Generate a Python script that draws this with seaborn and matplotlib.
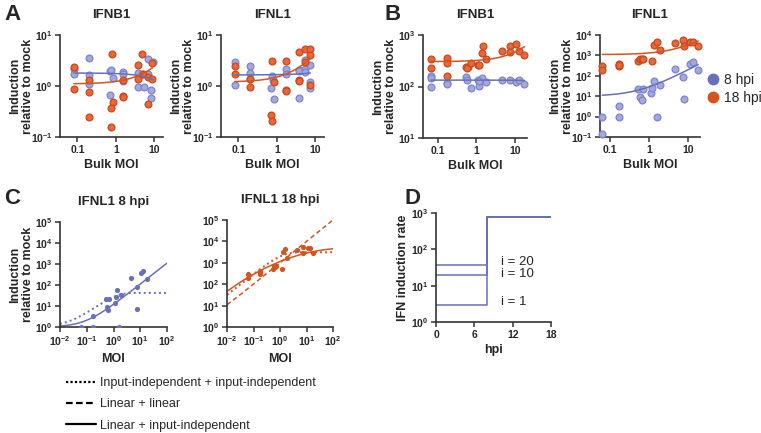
import numpy as np
import pandas as pd
import matplotlib
matplotlib.use("Agg")
import matplotlib.pyplot as plt
import seaborn as sns
from matplotlib.lines import Line2D
from matplotlib.ticker import NullLocator

###############################################################################
# Data
###############################################################################

# A - IFNB1
a_ifnb1_8_moi = [0.08, 0.08, 0.2, 0.2, 0.2, 0.7, 0.75, 0.7, 0.85, 1.5, 1.5, 1.5,
                 3.8, 3.8, 4.8, 5.3, 7, 7, 8.5, 8.5, 9.5]
a_ifnb1_8_val = [2.2, 1.7, 3.6, 1.67, 1.1, 2.0, 2.05, 0.68, 1.44, 1.9, 1.7, 1.25,
                 0.95, 1.8, 1.7, 0.95, 3.4, 1.7, 0.58, 0.82, 3.0]
a_ifnb1_18_moi = [0.08, 0.08, 0.2, 0.2, 0.2, 0.8, 0.85, 0.75, 0.75, 1.5, 1.5, 1.5,
                  3.8, 3.8, 4.8, 5, 7, 7, 9, 9]
a_ifnb1_18_val = [2.4, 0.86, 1.3, 0.76, 0.25, 4.3, 0.48, 0.37, 0.16, 1.3, 0.65, 0.6,
                  2.6, 1.4, 4.3, 1.75, 1.5, 0.45, 2.8, 1.4]

# A - IFNL1
a_ifnl1_8_moi = [0.08, 0.08, 0.2, 0.2, 0.2, 0.75, 0.7, 0.85, 0.8, 1.7, 1.7,
                 3.8, 3.8, 3.8, 5.3, 5.3, 5.3, 7.5, 7.5, 7.5]
a_ifnl1_8_val = [3.0, 1.05, 2.5, 1.8, 1.4, 1.6, 0.93, 0.55, 1.3, 2.2, 1.7,
                 2.1, 2.0, 0.57, 3.3, 2.2, 1.9, 2.6, 1.2, 0.93]
a_ifnl1_18_moi = [0.08, 0.08, 0.2, 0.2, 0.75, 0.85, 0.7, 0.75, 1.7, 1.7, 1.7,
                  3.8, 3.8, 3.8, 5.3, 5.3, 7.5, 7.5, 7.5]
a_ifnl1_18_val = [2.5, 1.7, 1.35, 0.97, 3.1, 1.2, 0.27, 0.21, 3.1, 0.83, 0.8,
                  4.6, 1.3, 1.25, 5.2, 3.0, 5.3, 4.0, 1.05]

# B - IFNB1
b_ifnb1_8_moi = [0.065, 0.065, 0.065, 0.17, 0.17, 0.54, 0.58, 0.7, 1.1, 1.2, 1.4, 1.2,
                 1.8, 4.6, 7.5, 10.8, 12.6, 18]
b_ifnb1_8_val = [162, 146, 100, 116, 112, 155, 134, 94, 134, 104, 146, 126,
                 121, 134, 134, 124, 134, 112]
b_ifnb1_18_moi = [0.065, 0.065, 0.17, 0.17, 0.17, 0.54, 0.61, 0.58, 0.7, 1.1, 1.2, 1.4,
                  1.5, 1.8, 4.6, 7.5, 7.7, 10.8, 12.6, 18]
b_ifnb1_18_val = [340, 228, 365, 280, 162, 240, 240, 228, 280, 264, 264, 455,
                  605, 340, 500, 605, 470, 655, 490, 400]

# B - IFNL1 (also used in C)
b_ifnl1_8_moi = [0.063, 0.063, 0.17, 0.17, 0.53, 0.58, 0.65, 0.7, 1.1, 1.2, 1.3, 1.54,
                 1.9, 4.5, 7.4, 7.6, 11, 13, 18]
b_ifnl1_8_val = [1.0, 0.14, 1.0, 3.2, 22, 8.7, 6.3, 22, 14, 26, 57, 1.0,
                 34, 220, 83, 7, 360, 470, 190]
b_ifnl1_18_moi = [0.063, 0.063, 0.17, 0.17, 0.17, 0.53, 0.58, 0.65, 0.7, 1.15, 1.3, 1.54,
                  1.9, 4.5, 7.4, 7.6, 11, 13, 18]
b_ifnl1_18_val = [300, 190, 400, 300, 350, 525, 690, 660, 690, 525, 3100, 4500,
                  1750, 3900, 5600, 2900, 4800, 4800, 2900]

# fitted "baseline + slope * MOI" curves (baseline, slope)
fit_a_ifnb1 = {"8 hpi": (1.8, -0.05), "18 hpi": (1.1, 0.13)}
fit_a_ifnl1 = {"8 hpi": (1.65, 0.02), "18 hpi": (1.2, 0.3)}
fit_b_ifnb1 = {"8 hpi": (133, -0.1), "18 hpi": (305, 16)}
fit_b_ifnl1 = {"8 hpi": (10, 19), "18 hpi": (1100, 220)}

# C - model curves
c8_linear_slope = 11          # linear + input-independent
c8_saturation = 41            # input-independent + input-independent
c18_linear_slope = 1000       # linear + linear
c18_saturation = 3100         # input-independent + input-independent
c18_mixed_logmoi = [-2, -1, 0, 1, 2]        # linear + input-independent, read at decades
c18_mixed_logval = [1.67, 2.45, 3.08, 3.44, 3.66]

# D - IFN induction rate
d_inputs = [20, 10, 1]
d_early_rate = [37, 20, 3]
d_late_rate = 800
d_switch_hpi = 8
d_end_hpi = 18

###############################################################################
# Style
###############################################################################

sns.set_theme(style="ticks")
plt.rcParams['font.family'] = ['Liberation Sans', 'DejaVu Sans']
plt.rcParams['mathtext.default'] = 'regular'

BLUE_FACE = "#a3a9de"
BLUE_EDGE = "#7c85c9"
BLUE_LINE = "#6670bb"
ORANGE_FACE = "#e8683a"
ORANGE_EDGE = "#c9481c"
ORANGE_LINE = "#d4541f"
AX_COLOR = "#333333"
TICK_FS = 7.5
LABEL_FS = 9

W, H = 761, 433
fig = plt.figure(figsize=(W / 100, H / 100), dpi=100)


def add_ax(l, t, r, b):
    ax = fig.add_axes([l / W, 1 - b / H, (r - l) / W, (b - t) / H])
    ax._px_width = r - l
    return ax


def pow_labels(exps):
    return ['$10^{%d}$' % e for e in exps]


def frame(ax, ylabel, xlabel, yoff=26):
    ax.tick_params(width=1.1, length=3.5, pad=2, color=AX_COLOR)
    for s in ['left', 'bottom']:
        ax.spines[s].set_linewidth(1.2)
        ax.spines[s].set_color(AX_COLOR)
    sns.despine(ax=ax)
    ax.set_xlabel(xlabel, fontsize=LABEL_FS, fontweight='bold', labelpad=3)
    ax.set_ylabel(ylabel, fontsize=LABEL_FS, fontweight='bold', linespacing=1.05)
    ax.yaxis.set_label_coords(-yoff / ax._px_width, 0.5)


def style_axes(ax, xlim, ylim, xticks, xlabels, yexps, xlabel, ylabel, title):
    ax.set_xscale('log')
    ax.set_yscale('log')
    ax.set_xlim(*xlim)
    ax.set_ylim(*ylim)
    ax.set_xticks(xticks, xlabels, fontsize=TICK_FS, fontweight='bold')
    ax.set_yticks([10.0 ** e for e in yexps], pow_labels(yexps), fontsize=TICK_FS,
                  fontweight='bold')
    ax.xaxis.set_minor_locator(NullLocator())
    ax.yaxis.set_minor_locator(NullLocator())
    frame(ax, ylabel, xlabel)
    if title:
        ax.set_title(title, fontsize=9.5, fontweight='bold', pad=12)


def scatter_fit(ax, moi8, val8, moi18, val18, fits):
    for moi, val, face, edge, line, key in [
        (moi8, val8, BLUE_FACE, BLUE_EDGE, BLUE_LINE, "8 hpi"),
        (moi18, val18, ORANGE_FACE, ORANGE_EDGE, ORANGE_LINE, "18 hpi"),
    ]:
        df = pd.DataFrame({"moi": moi, "val": val})
        sns.scatterplot(data=df, x="moi", y="val", ax=ax, s=24, color=face,
                        edgecolor=edge, linewidth=0.9, zorder=3, clip_on=False)
        base, slope = fits[key]
        xs = np.geomspace(min(moi), max(moi), 100)
        sns.lineplot(x=xs, y=base + slope * xs, ax=ax, color=line, lw=1.1, zorder=4)


ylab = "Induction\nrelative to mock"

# ---------------- A ----------------
ax = add_ax(60, 35, 163, 137)
scatter_fit(ax, a_ifnb1_8_moi, a_ifnb1_8_val, a_ifnb1_18_moi, a_ifnb1_18_val, fit_a_ifnb1)
style_axes(ax, (0.035, 17), (0.1, 10), [0.1, 1, 10], ['0.1', '1', '10'],
           [-1, 0, 1], "Bulk MOI", ylab, "IFNB1")

ax = add_ax(221, 35, 324, 137)
scatter_fit(ax, a_ifnl1_8_moi, a_ifnl1_8_val, a_ifnl1_18_moi, a_ifnl1_18_val, fit_a_ifnl1)
style_axes(ax, (0.035, 17), (0.1, 10), [0.1, 1, 10], ['0.1', '1', '10'],
           [-1, 0, 1], "Bulk MOI", ylab, "IFNL1")

# ---------------- B ----------------
ax = add_ax(423, 35, 527, 138)
scatter_fit(ax, b_ifnb1_8_moi, b_ifnb1_8_val, b_ifnb1_18_moi, b_ifnb1_18_val, fit_b_ifnb1)
style_axes(ax, (0.04, 21), (10, 1000), [0.1, 1, 10], ['0.1', '1', '10'],
           [1, 2, 3], "Bulk MOI", ylab, "IFNB1")

ax = add_ax(600, 35, 700, 137)
scatter_fit(ax, b_ifnl1_8_moi, b_ifnl1_8_val, b_ifnl1_18_moi, b_ifnl1_18_val, fit_b_ifnl1)
style_axes(ax, (0.055, 20), (0.1, 1e4), [0.1, 1, 10], ['0.1', '1', '10'],
           [-1, 0, 1, 2, 3, 4], "Bulk MOI", ylab, "IFNL1")
handles = [Line2D([], [], marker='o', ls='', ms=7.5, color=BLUE_LINE, mec=BLUE_LINE),
           Line2D([], [], marker='o', ls='', ms=7.5, color=ORANGE_LINE, mec=ORANGE_LINE)]
ax.legend(handles, ["8 hpi", "18 hpi"], loc='center left', bbox_to_anchor=(1.06, 0.47),
          frameon=False, fontsize=10, handletextpad=0.3, labelspacing=0.3,
          borderaxespad=0, borderpad=0, handlelength=1.0)

# ---------------- C ----------------
moi_grid = np.geomspace(0.01, 100, 300)
cx = [0.01, 0.1, 1, 10, 100]

ax = add_ax(60, 222, 167, 327)
df8 = pd.DataFrame({"moi": b_ifnl1_8_moi, "val": b_ifnl1_8_val})
sns.scatterplot(data=df8, x="moi", y="val", ax=ax, s=14, color=BLUE_LINE,
                edgecolor=BLUE_LINE, linewidth=0, zorder=3)
sns.lineplot(x=moi_grid, y=1 + c8_linear_slope * moi_grid, ax=ax, color=BLUE_LINE, lw=1.1)
sns.lineplot(x=moi_grid, y=1 + c8_saturation * (1 - np.exp(-moi_grid)), ax=ax,
             color=BLUE_LINE, lw=1.4, ls=(0, (1, 1.6)))
style_axes(ax, (0.01, 100), (1, 1e5), cx, pow_labels([-2, -1, 0, 1, 2]),
           [0, 1, 2, 3, 4, 5], "MOI", ylab, "IFNL1 8 hpi")

ax = add_ax(227, 220, 333, 327)
df18 = pd.DataFrame({"moi": b_ifnl1_18_moi, "val": b_ifnl1_18_val})
sns.scatterplot(data=df18, x="moi", y="val", ax=ax, s=14, color=ORANGE_LINE,
                edgecolor=ORANGE_LINE, linewidth=0, zorder=3)
mixed = np.poly1d(np.polyfit(c18_mixed_logmoi, c18_mixed_logval, 3))
sns.lineplot(x=moi_grid, y=10 ** mixed(np.log10(moi_grid)), ax=ax, color=ORANGE_LINE, lw=1.1)
sns.lineplot(x=moi_grid, y=1 + c18_linear_slope * moi_grid, ax=ax, color=ORANGE_LINE,
             lw=1.1, ls=(0, (3, 2)))
sns.lineplot(x=moi_grid, y=1 + c18_saturation * (1 - np.exp(-moi_grid)), ax=ax,
             color=ORANGE_LINE, lw=1.4, ls=(0, (1, 1.6)))
style_axes(ax, (0.01, 100), (1, 1e5), cx, pow_labels([-2, -1, 0, 1, 2]),
           [0, 1, 2, 3, 4, 5], "MOI", "", "IFNL1 18 hpi")

leg_handles = [Line2D([], [], color='black', lw=1.6, ls=(0, (1, 1))),
               Line2D([], [], color='black', lw=1.6, ls=(0, (3, 1.5))),
               Line2D([], [], color='black', lw=1.6)]
fig.legend(leg_handles, ["Input-independent + input-independent", "Linear + linear",
                         "Linear + input-independent"],
           loc='upper left', bbox_to_anchor=(66 / W, 1 - 377 / H), frameon=False,
           fontsize=9, handlelength=2.4, handletextpad=0.3, labelspacing=0.75,
           borderaxespad=0, borderpad=0)

# ---------------- D ----------------
ax = add_ax(436, 213, 551, 322)
for early in d_early_rate:
    hpi = [0, d_switch_hpi, d_switch_hpi, d_end_hpi]
    rate = [early, early, d_late_rate, d_late_rate]
    sns.lineplot(x=hpi, y=rate, ax=ax, color=BLUE_LINE, lw=1.1, sort=False,
                 estimator=None)
ax.set_yscale('log')
ax.set_xlim(0, 18)
ax.set_ylim(1, 1000)
ax.set_xticks([0, 6, 12, 18], ['0', '6', '12', '18'], fontsize=TICK_FS, fontweight='bold')
ax.set_yticks([1, 10, 100, 1000], pow_labels([0, 1, 2, 3]), fontsize=TICK_FS,
              fontweight='bold')
ax.yaxis.set_minor_locator(NullLocator())
frame(ax, "IFN induction rate", "hpi", yoff=27)
for n, early, off in zip(d_inputs, d_early_rate, [1.25, 1.05, 1.15]):
    ax.text(10.2, early * off, "i = %d" % n, fontsize=9.5, va='center', ha='left')

# panel letters
for letter, x, y in [("A", 4, 14), ("B", 385, 14), ("C", 4, 198), ("D", 405, 198)]:
    fig.text(x / W, 1 - y / H, letter, fontsize=16, fontweight='bold', va='center', ha='left')

fig.savefig("out.png", dpi=100)
